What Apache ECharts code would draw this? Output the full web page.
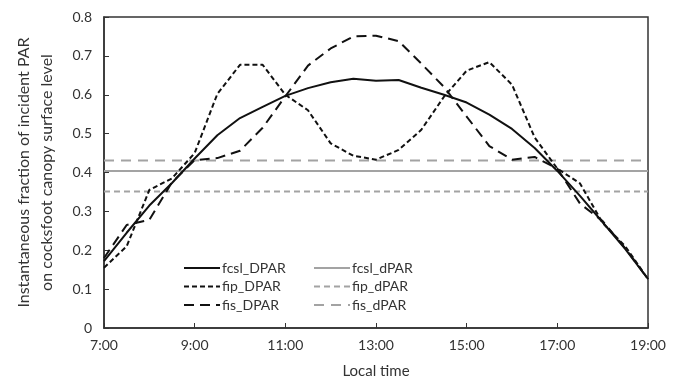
<!DOCTYPE html>
<html><head><meta charset="utf-8">
<script src="https://cdn.jsdelivr.net/npm/echarts@6/dist/echarts.min.js"></script>
<style>html,body{margin:0;padding:0;background:#fff}#c{width:681px;height:384px}</style>
</head><body><div id="c"></div>
<script>
var hours = [7,7.5,8,8.5,9,9.5,10,10.5,11,11.5,12,12.5,13,13.5,14,14.5,15,15.5,16,16.5,17,17.5,18,18.5,19];
var fcsl_DPAR = [0.172,0.245,0.315,0.373,0.436,0.496,0.540,0.569,0.597,0.617,0.632,0.641,0.636,0.638,0.618,0.600,0.580,0.549,0.512,0.463,0.404,0.340,0.272,0.203,0.126];
var fip_DPAR  = [0.155,0.210,0.355,0.385,0.450,0.602,0.677,0.677,0.600,0.560,0.475,0.443,0.433,0.458,0.510,0.595,0.662,0.684,0.626,0.490,0.410,0.372,0.270,0.210,0.126];
var fis_DPAR  = [0.180,0.265,0.278,0.375,0.432,0.437,0.456,0.515,0.596,0.675,0.719,0.750,0.752,0.738,0.680,0.620,0.544,0.468,0.433,0.440,0.410,0.320,0.275,0.205,0.126];
var fcsl_dPAR = [0.404,0.404];
var fip_dPAR  = [0.351,0.351];
var fis_dPAR  = [0.431,0.431];
var hLineX = [7,19];
var xTicks = ['7:00','9:00','11:00','13:00','15:00','17:00','19:00'];

function pairs(xs, ys){ return xs.map(function(x,i){ return [x, ys[i]]; }); }
var FONT = 'Lato';
var TXT = '#333';
var chart = echarts.init(document.getElementById('c'), null, {renderer:'canvas'});
function ser(name, xs, ys, color, dash, z){
  return {name:name, type:'line', data:pairs(xs,ys), symbol:'none', showSymbol:false, z:z,
    lineStyle:{color:color, width:2, type:dash}, itemStyle:{color:color}, animation:false};
}
var legendCommon = {orient:'vertical', top:256, itemWidth:36, itemHeight:14, itemGap:4.5,
  itemStyle:{opacity:0},
  textStyle:{fontFamily:FONT, fontSize:14, color:TXT, padding:[0,0,0,-3]}};
chart.setOption({
  animation:false,
  textStyle:{fontFamily:FONT, color:TXT},
  grid:{left:104, right:33, top:17, bottom:52, show:true, borderColor:'#333', borderWidth:1.5},
  xAxis:{type:'value', min:7, max:19, interval:2,
    name:'Local time', nameLocation:'middle', nameGap:36,
    nameTextStyle:{fontFamily:FONT, fontSize:15, color:TXT},
    axisLine:{lineStyle:{color:'#333', width:1.5}},
    axisTick:{inside:true, length:5, lineStyle:{color:'#333'}},
    splitLine:{show:false},
    axisLabel:{fontFamily:FONT, fontSize:14, color:TXT, margin:10,
      formatter:function(v){ var i = Math.round((v-7)/2); return xTicks[i]; }}},
  yAxis:{type:'value', min:0, max:0.8, interval:0.1,
    name:'Instantaneous fraction of incident PAR\non cocksfoot canopy surface level',
    nameLocation:'middle', nameGap:46,
    nameTextStyle:{fontFamily:FONT, fontSize:16, color:TXT, lineHeight:23},
    axisLine:{show:true, lineStyle:{color:'#333', width:1.5}},
    axisTick:{show:true, inside:true, length:5, lineStyle:{color:'#333'}},
    splitLine:{show:false},
    axisLabel:{fontFamily:FONT, fontSize:14, color:TXT, margin:12,
      formatter:function(v){ return v===0 ? '0' : v.toFixed(1); }}},
  legend:[
    Object.assign({left:178, data:['fcsl_DPAR','fip_DPAR','fis_DPAR']}, legendCommon),
    Object.assign({left:308, data:['fcsl_dPAR','fip_dPAR','fis_dPAR']}, legendCommon)
  ],
  series:[
    ser('fcsl_dPAR', hLineX, fcsl_dPAR, '#a3a3a3', 'solid', 2),
    ser('fip_dPAR', hLineX, fip_dPAR, '#a3a3a3', [6,4], 2),
    ser('fis_dPAR', hLineX, fis_dPAR, '#a3a3a3', [10,7], 2),
    ser('fcsl_DPAR', hours, fcsl_DPAR, '#111', 'solid', 3),
    ser('fip_DPAR', hours, fip_DPAR, '#111', [5,3], 3),
    ser('fis_DPAR', hours, fis_DPAR, '#111', [10,6], 3)
  ]
});
</script></body></html>
